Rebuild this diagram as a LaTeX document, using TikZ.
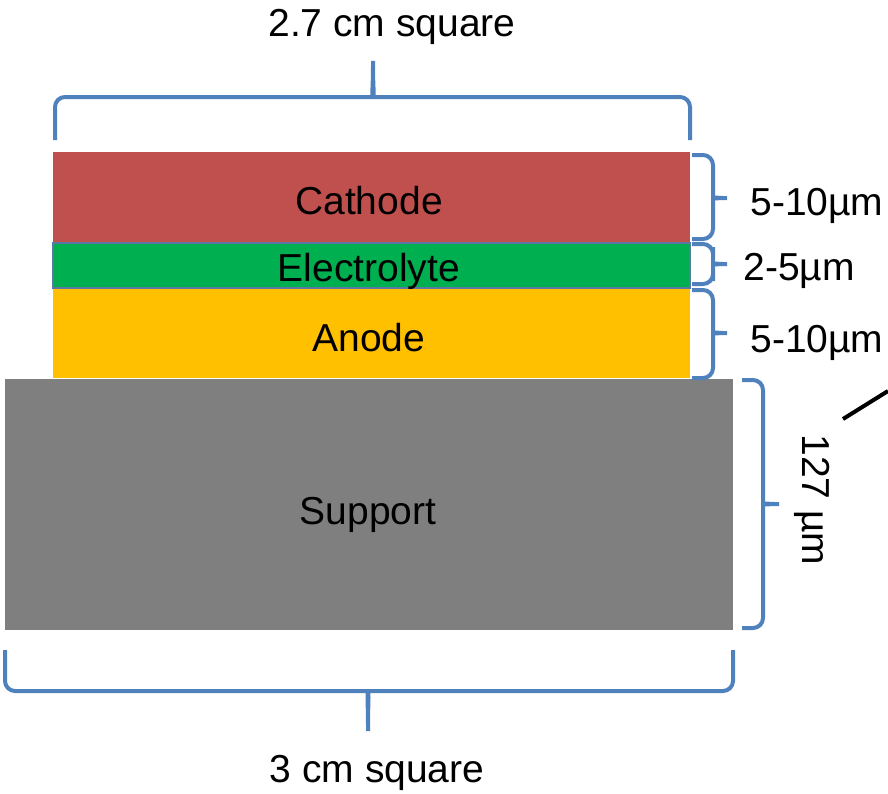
\documentclass[tikz,border=0pt]{standalone}
\usepackage{fontspec}
\setmainfont{Liberation Sans}
\usepackage{tikz}
\usetikzlibrary{positioning}
\definecolor{cathodered}{HTML}{C0504D}
\definecolor{electrogreen}{HTML}{00B050}
\definecolor{electroedge}{HTML}{5B77A6}
\definecolor{anodeorange}{HTML}{FFC000}
\definecolor{supportgray}{HTML}{7F7F7F}
\definecolor{braceblue}{HTML}{4F81BD}
\tikzset{
  layertext/.style={font=\fontsize{19.5}{23}\selectfont, text height=14pt, text depth=0pt, inner sep=0pt},
  dimtext/.style={layertext, anchor=west},
  ppbrace/.style={draw=braceblue, line width=2pt, rounded corners=5pt},
}

\begin{document}
\begin{tikzpicture}[x=0.5pt, y=-0.5pt]
\useasboundingbox (0,0) rectangle (888,793);

% layers
\fill[supportgray] (5,379) rectangle (733,630);
\fill[anodeorange] (53,289) rectangle (690,378);
\fill[cathodered] (53,152) rectangle (690,242);
\draw[electroedge, fill=electrogreen, line width=0.8pt] (53,243) rectangle (690,288);

\node[layertext] (cathode) at (369,200) {Cathode};
\node[layertext] (electrolyte) at (369,267) {Electrolyte};
\node[layertext] (anode) at (369,337) {Anode};
\node[layertext] (support) at (368,510) {Support};

% width braces
\draw[ppbrace] (55,140) -- (55,97) -- (364,97) .. controls (371,97) and (373,92) .. (373,55)
  .. controls (373,92) and (375,97) .. (382,97) -- (690,97) -- (690,140);
\node[layertext] (topwidth) at (392,22) {2.7 cm square};

\draw[ppbrace] (5,650) -- (5,691) -- (360,691) .. controls (366,691) and (368,696) .. (368,737)
  .. controls (368,696) and (370,691) .. (376,691) -- (733,691) -- (733,650);
\node[layertext] (bottomwidth) at (377,768) {3 cm square};

% thickness braces
\draw[ppbrace] (692,155) -- (713,155) -- (713,191) .. controls (713,196) and (717,198) .. (733,198)
  .. controls (717,198) and (713,200) .. (713,205) -- (713,239) -- (692,239);
\node[dimtext] (cathodedim) at (750,201) {5-10µm};

\draw[ppbrace] (692,244) -- (713,244) -- (713,257) .. controls (713,262) and (717,264) .. (733,264)
  .. controls (717,264) and (713,266) .. (713,271) -- (713,284) -- (692,284);
\node[dimtext] (electrodim) at (743,266) {2-5µm};

\draw[ppbrace] (692,290) -- (713,290) -- (713,326) .. controls (713,331) and (717,333) .. (733,333)
  .. controls (717,333) and (713,335) .. (713,340) -- (713,378) -- (692,378);
\node[dimtext] (anodedim) at (750,338) {5-10µm};

\draw[ppbrace] (742,380) -- (763,380) -- (763,497) .. controls (763,502) and (767,504) .. (785,504)
  .. controls (767,504) and (763,506) .. (763,511) -- (763,628) -- (742,628);
\node[layertext, rotate=-90] (supportdim) at (816,500) {127 µm};

% pointer line
\coordinate (pointstart) at (843,419);
\coordinate (pointend) at (888,391);
\draw[line width=2pt] (pointstart) -- (pointend);

\end{tikzpicture}
\end{document}
